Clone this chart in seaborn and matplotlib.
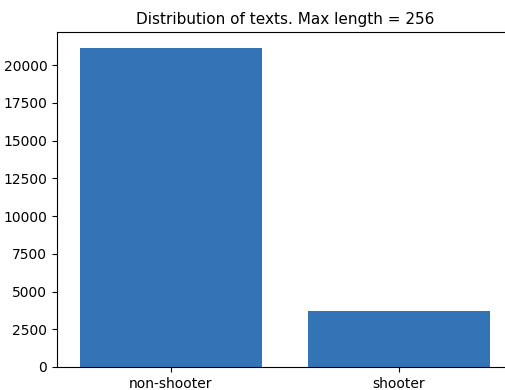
import matplotlib
matplotlib.use("Agg")
import matplotlib.pyplot as plt
import seaborn as sns
import pandas as pd

categories = ["non-shooter", "shooter"]
counts = [21150, 3700]
title = "Distribution of texts. Max length = 256"

df = pd.DataFrame({"label": categories, "count": counts})

fig = plt.figure(figsize=(5.06, 3.90), dpi=100)
W, H = 506, 390
left, right, top, bottom = 57, 512.5, 32, 367
ax = fig.add_axes([left / W, 1 - bottom / H, (right - left) / W, (bottom - top) / H])
sns.barplot(data=df, x="label", y="count", color="#3274b5", saturation=1, width=0.8, ax=ax)
ax.set_xlim(-0.5, 1.5)
ax.set_ylim(0, 22200)
ax.set_yticks([0, 2500, 5000, 7500, 10000, 12500, 15000, 17500, 20000])
ax.set_xlabel("")
ax.set_ylabel("")
ax.set_title(title, fontsize=11)
fig.savefig("out.png", dpi=100)
